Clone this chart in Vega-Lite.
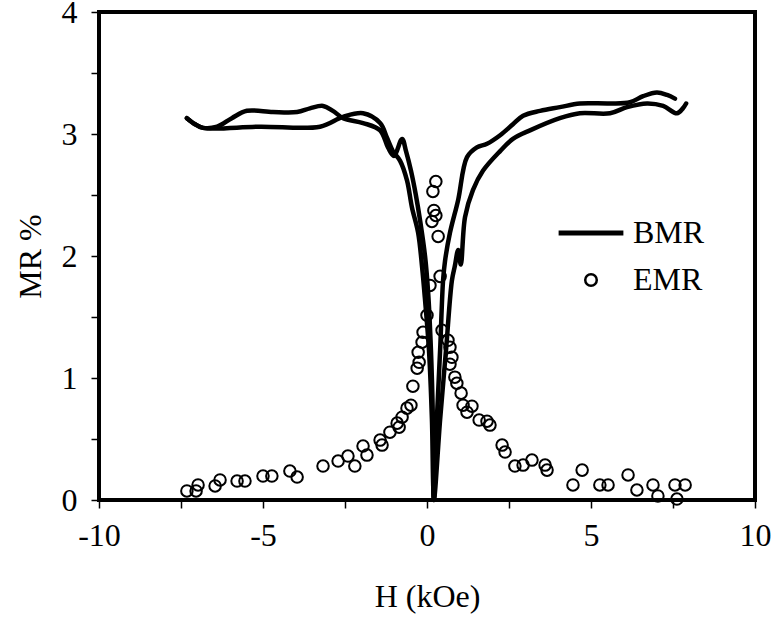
{
  "$schema": "https://vega.github.io/schema/vega-lite/v6.json",
  "width": 656,
  "height": 488,
  "autosize": {"type": "none"},
  "padding": {"left": 99, "top": 12, "right": 18, "bottom": 127},
  "background": "white",
  "config": {
    "view": {"stroke": "black", "strokeWidth": 4},
    "font": "Liberation Serif",
    "axis": {
      "domain": false, "grid": false,
      "tickColor": "black", "tickWidth": 1.5, "tickSize": 8,
      "labelFont": "Liberation Serif", "labelFontSize": 32, "labelColor": "black",
      "titleFont": "Liberation Serif", "titleFontSize": 32, "titleFontWeight": "normal", "titleColor": "black"
    },
    "legend": {
      "orient": "none", "legendX": 476, "legendY": 205, "padding": 0,
      "labelFont": "Liberation Serif", "labelFontSize": 32, "labelColor": "black",
      "symbolSize": 133, "symbolStrokeColor": "black", "symbolFillColor": "transparent",
      "symbolStrokeWidth": 2.5, "labelOffset": 26, "rowPadding": 15
    }
  },
  "datasets": {
    "bmr": [
      {"branch": "a", "i": 1, "H": -7.32, "MR": 3.13},
      {"branch": "a", "i": 2, "H": -7.07, "MR": 3.08},
      {"branch": "a", "i": 3, "H": -6.83, "MR": 3.05},
      {"branch": "a", "i": 4, "H": -6.40, "MR": 3.06},
      {"branch": "a", "i": 5, "H": -5.95, "MR": 3.13},
      {"branch": "a", "i": 6, "H": -5.49, "MR": 3.19},
      {"branch": "a", "i": 7, "H": -4.70, "MR": 3.18},
      {"branch": "a", "i": 8, "H": -3.96, "MR": 3.18},
      {"branch": "a", "i": 9, "H": -3.57, "MR": 3.21},
      {"branch": "a", "i": 10, "H": -3.17, "MR": 3.23},
      {"branch": "a", "i": 11, "H": -2.87, "MR": 3.19},
      {"branch": "a", "i": 12, "H": -2.56, "MR": 3.13},
      {"branch": "a", "i": 13, "H": -1.95, "MR": 3.09},
      {"branch": "a", "i": 14, "H": -1.43, "MR": 3.03},
      {"branch": "a", "i": 15, "H": -1.19, "MR": 2.89},
      {"branch": "a", "i": 16, "H": -1.01, "MR": 2.82},
      {"branch": "a", "i": 17, "H": -0.76, "MR": 2.96},
      {"branch": "a", "i": 18, "H": -0.64, "MR": 2.86},
      {"branch": "a", "i": 19, "H": -0.49, "MR": 2.70},
      {"branch": "a", "i": 20, "H": -0.34, "MR": 2.50},
      {"branch": "a", "i": 21, "H": -0.21, "MR": 2.29},
      {"branch": "a", "i": 22, "H": -0.06, "MR": 2.00},
      {"branch": "a", "i": 23, "H": 0.03, "MR": 1.72},
      {"branch": "a", "i": 24, "H": 0.12, "MR": 1.23},
      {"branch": "a", "i": 25, "H": 0.18, "MR": 0.66},
      {"branch": "a", "i": 26, "H": 0.21, "MR": 0.0},
      {"branch": "a", "i": 27, "H": 0.40, "MR": 0.66},
      {"branch": "a", "i": 28, "H": 0.58, "MR": 1.23},
      {"branch": "a", "i": 29, "H": 0.76, "MR": 1.80},
      {"branch": "a", "i": 30, "H": 0.85, "MR": 1.92},
      {"branch": "a", "i": 31, "H": 0.95, "MR": 2.05},
      {"branch": "a", "i": 32, "H": 1.03, "MR": 1.93},
      {"branch": "a", "i": 33, "H": 1.16, "MR": 2.32},
      {"branch": "a", "i": 34, "H": 1.40, "MR": 2.54},
      {"branch": "a", "i": 35, "H": 1.71, "MR": 2.70},
      {"branch": "a", "i": 36, "H": 2.23, "MR": 2.86},
      {"branch": "a", "i": 37, "H": 2.62, "MR": 2.96},
      {"branch": "a", "i": 38, "H": 3.14, "MR": 3.03},
      {"branch": "a", "i": 39, "H": 4.05, "MR": 3.13},
      {"branch": "a", "i": 40, "H": 4.66, "MR": 3.17},
      {"branch": "a", "i": 41, "H": 5.58, "MR": 3.17},
      {"branch": "a", "i": 42, "H": 6.10, "MR": 3.22},
      {"branch": "a", "i": 43, "H": 6.71, "MR": 3.25},
      {"branch": "a", "i": 44, "H": 7.20, "MR": 3.23},
      {"branch": "a", "i": 45, "H": 7.62, "MR": 3.17},
      {"branch": "a", "i": 46, "H": 7.80, "MR": 3.21},
      {"branch": "a", "i": 47, "H": 7.90, "MR": 3.25},
      {"branch": "b", "i": 1, "H": -7.32, "MR": 3.13},
      {"branch": "b", "i": 2, "H": -7.07, "MR": 3.08},
      {"branch": "b", "i": 3, "H": -6.83, "MR": 3.05},
      {"branch": "b", "i": 4, "H": -5.09, "MR": 3.06},
      {"branch": "b", "i": 5, "H": -3.26, "MR": 3.06},
      {"branch": "b", "i": 6, "H": -2.56, "MR": 3.14},
      {"branch": "b", "i": 7, "H": -1.95, "MR": 3.17},
      {"branch": "b", "i": 8, "H": -1.43, "MR": 3.09},
      {"branch": "b", "i": 9, "H": -1.22, "MR": 2.97},
      {"branch": "b", "i": 10, "H": -1.04, "MR": 2.86},
      {"branch": "b", "i": 11, "H": -0.82, "MR": 2.78},
      {"branch": "b", "i": 12, "H": -0.61, "MR": 2.62},
      {"branch": "b", "i": 13, "H": -0.46, "MR": 2.40},
      {"branch": "b", "i": 14, "H": -0.27, "MR": 2.19},
      {"branch": "b", "i": 15, "H": -0.15, "MR": 1.91},
      {"branch": "b", "i": 16, "H": -0.06, "MR": 1.64},
      {"branch": "b", "i": 17, "H": 0.06, "MR": 1.23},
      {"branch": "b", "i": 18, "H": 0.15, "MR": 0.66},
      {"branch": "b", "i": 19, "H": 0.21, "MR": 0.0},
      {"branch": "b", "i": 20, "H": 0.30, "MR": 0.66},
      {"branch": "b", "i": 21, "H": 0.40, "MR": 1.23},
      {"branch": "b", "i": 22, "H": 0.49, "MR": 1.80},
      {"branch": "b", "i": 23, "H": 0.55, "MR": 1.96},
      {"branch": "b", "i": 24, "H": 0.70, "MR": 2.19},
      {"branch": "b", "i": 25, "H": 0.95, "MR": 2.46},
      {"branch": "b", "i": 26, "H": 1.22, "MR": 2.81},
      {"branch": "b", "i": 27, "H": 1.52, "MR": 2.89},
      {"branch": "b", "i": 28, "H": 1.83, "MR": 2.92},
      {"branch": "b", "i": 29, "H": 2.23, "MR": 2.99},
      {"branch": "b", "i": 30, "H": 2.62, "MR": 3.08},
      {"branch": "b", "i": 31, "H": 2.93, "MR": 3.15},
      {"branch": "b", "i": 32, "H": 3.45, "MR": 3.19},
      {"branch": "b", "i": 33, "H": 4.05, "MR": 3.22},
      {"branch": "b", "i": 34, "H": 4.66, "MR": 3.25},
      {"branch": "b", "i": 35, "H": 5.58, "MR": 3.25},
      {"branch": "b", "i": 36, "H": 6.19, "MR": 3.26},
      {"branch": "b", "i": 37, "H": 6.59, "MR": 3.31},
      {"branch": "b", "i": 38, "H": 7.01, "MR": 3.34},
      {"branch": "b", "i": 39, "H": 7.32, "MR": 3.32},
      {"branch": "b", "i": 40, "H": 7.56, "MR": 3.29}
    ],
    "emr": [
      {"series": "EMR", "H": -7.32, "MR": 0.074},
      {"series": "EMR", "H": -7.04, "MR": 0.074},
      {"series": "EMR", "H": -6.98, "MR": 0.123},
      {"series": "EMR", "H": -6.46, "MR": 0.115},
      {"series": "EMR", "H": -6.31, "MR": 0.164},
      {"series": "EMR", "H": -5.79, "MR": 0.155},
      {"series": "EMR", "H": -5.55, "MR": 0.155},
      {"series": "EMR", "H": -5.00, "MR": 0.196},
      {"series": "EMR", "H": -4.73, "MR": 0.196},
      {"series": "EMR", "H": -4.18, "MR": 0.237},
      {"series": "EMR", "H": -3.96, "MR": 0.188},
      {"series": "EMR", "H": -3.17, "MR": 0.278},
      {"series": "EMR", "H": -2.71, "MR": 0.319},
      {"series": "EMR", "H": -2.41, "MR": 0.360},
      {"series": "EMR", "H": -2.20, "MR": 0.278},
      {"series": "EMR", "H": -1.95, "MR": 0.442},
      {"series": "EMR", "H": -1.83, "MR": 0.368},
      {"series": "EMR", "H": -1.43, "MR": 0.491},
      {"series": "EMR", "H": -1.37, "MR": 0.450},
      {"series": "EMR", "H": -1.13, "MR": 0.556},
      {"series": "EMR", "H": -0.91, "MR": 0.630},
      {"series": "EMR", "H": -0.85, "MR": 0.597},
      {"series": "EMR", "H": -0.76, "MR": 0.679},
      {"series": "EMR", "H": -0.61, "MR": 0.753},
      {"series": "EMR", "H": -0.49, "MR": 0.777},
      {"series": "EMR", "H": -0.43, "MR": 0.933},
      {"series": "EMR", "H": -0.30, "MR": 1.080},
      {"series": "EMR", "H": -0.24, "MR": 1.129},
      {"series": "EMR", "H": -0.27, "MR": 1.211},
      {"series": "EMR", "H": -0.15, "MR": 1.293},
      {"series": "EMR", "H": -0.12, "MR": 1.375},
      {"series": "EMR", "H": 0.00, "MR": 1.514},
      {"series": "EMR", "H": 0.09, "MR": 1.759},
      {"series": "EMR", "H": 0.27, "MR": 2.610},
      {"series": "EMR", "H": 0.18, "MR": 2.529},
      {"series": "EMR", "H": 0.21, "MR": 2.373},
      {"series": "EMR", "H": 0.27, "MR": 2.332},
      {"series": "EMR", "H": 0.15, "MR": 2.283},
      {"series": "EMR", "H": 0.34, "MR": 2.160},
      {"series": "EMR", "H": 0.40, "MR": 1.833},
      {"series": "EMR", "H": 0.46, "MR": 1.391},
      {"series": "EMR", "H": 0.64, "MR": 1.309},
      {"series": "EMR", "H": 0.70, "MR": 1.252},
      {"series": "EMR", "H": 0.76, "MR": 1.170},
      {"series": "EMR", "H": 0.70, "MR": 1.113},
      {"series": "EMR", "H": 0.85, "MR": 1.007},
      {"series": "EMR", "H": 0.91, "MR": 0.957},
      {"series": "EMR", "H": 1.04, "MR": 0.876},
      {"series": "EMR", "H": 1.10, "MR": 0.777},
      {"series": "EMR", "H": 1.22, "MR": 0.720},
      {"series": "EMR", "H": 1.37, "MR": 0.769},
      {"series": "EMR", "H": 1.59, "MR": 0.655},
      {"series": "EMR", "H": 1.83, "MR": 0.646},
      {"series": "EMR", "H": 1.92, "MR": 0.614},
      {"series": "EMR", "H": 2.29, "MR": 0.450},
      {"series": "EMR", "H": 2.38, "MR": 0.393},
      {"series": "EMR", "H": 2.68, "MR": 0.278},
      {"series": "EMR", "H": 2.93, "MR": 0.286},
      {"series": "EMR", "H": 3.20, "MR": 0.327},
      {"series": "EMR", "H": 3.60, "MR": 0.286},
      {"series": "EMR", "H": 3.66, "MR": 0.245},
      {"series": "EMR", "H": 4.45, "MR": 0.123},
      {"series": "EMR", "H": 4.73, "MR": 0.245},
      {"series": "EMR", "H": 5.27, "MR": 0.123},
      {"series": "EMR", "H": 5.52, "MR": 0.123},
      {"series": "EMR", "H": 6.13, "MR": 0.205},
      {"series": "EMR", "H": 6.40, "MR": 0.082},
      {"series": "EMR", "H": 6.89, "MR": 0.123},
      {"series": "EMR", "H": 7.04, "MR": 0.033},
      {"series": "EMR", "H": 7.56, "MR": 0.123},
      {"series": "EMR", "H": 7.62, "MR": 0.008},
      {"series": "EMR", "H": 7.87, "MR": 0.123}
    ]
  },
  "encoding": {
    "x": {
      "field": "H", "type": "quantitative",
      "scale": {"domain": [-10, 10], "nice": false, "zero": false},
      "axis": {
        "title": "H (kOe)",
        "values": [-10, -7.5, -5, -2.5, 0, 2.5, 5, 7.5, 10],
        "labelExpr": "datum.value % 5 == 0 ? '' + datum.value : ''",
        "labelPadding": 12, "titlePadding": 30, "labelFlush": false
      }
    },
    "y": {
      "field": "MR", "type": "quantitative",
      "scale": {"domain": [0, 4], "nice": false},
      "axis": {
        "title": "MR %",
        "values": [0, 0.5, 1, 1.5, 2, 2.5, 3, 3.5, 4],
        "labelExpr": "datum.value % 1 == 0 ? '' + datum.value : ''",
        "labelPadding": 14, "titlePadding": 14, "labelFlush": false
      }
    }
  },
  "layer": [
    {
      "data": {"name": "bmr"},
      "mark": {"type": "line", "color": "black", "strokeWidth": 4.5, "interpolate": "catmull-rom", "strokeJoin": "round", "strokeCap": "round"},
      "encoding": {
        "detail": {"field": "branch", "type": "nominal"},
        "order": {"field": "i", "type": "quantitative"}
      }
    },
    {
      "data": {"name": "emr"},
      "mark": {"type": "point", "filled": false, "color": "black", "strokeWidth": 2, "size": 133, "opacity": 1},
      "encoding": {
        "shape": {
          "field": "series", "type": "nominal",
          "scale": {"domain": ["BMR", "EMR"], "range": ["M-5.4,-0.2H5.4V0.2H-5.4Z", "circle"]},
          "legend": {"title": null}
        }
      }
    }
  ]
}
